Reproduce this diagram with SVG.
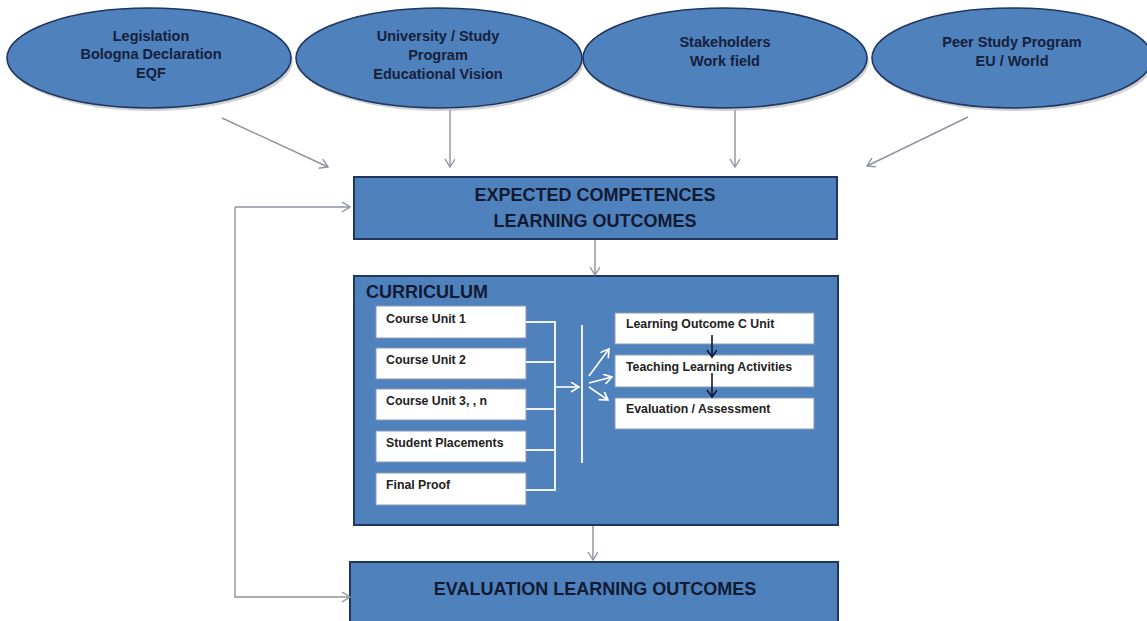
<svg xmlns="http://www.w3.org/2000/svg" width="1147" height="621" viewBox="0 0 1147 621">
  <style>
    .ell { fill: #4f81bd; stroke: #1f3660; stroke-width: 1.6; }
    .shadow { fill: #9a9a9a; opacity: 0.45; }
    .etxt { font-family: "Liberation Sans", Arial, sans-serif; font-weight: bold; font-size: 14.5px; fill: #15203a; text-anchor: middle; }
    .box { fill: #4f81bd; stroke: #1f3660; stroke-width: 2; }
    .btxt { font-family: "Liberation Sans", Arial, sans-serif; font-weight: bold; font-size: 18px; fill: #101a33; text-anchor: middle; }
    .ctitle { font-family: "Liberation Sans", Arial, sans-serif; font-weight: bold; font-size: 18px; fill: #101a33; }
    .wbox { fill: #ffffff; stroke: #8c9bb5; stroke-width: 1; }
    .wtxt { font-family: "Liberation Sans", Arial, sans-serif; font-weight: bold; font-size: 12.3px; fill: #222222; }
    .gray { fill: none; stroke: #8e939c; stroke-width: 1.4; marker-end: url(#ag); }
    .white { fill: none; stroke: #ffffff; stroke-width: 1.8; }
    .whitea { fill: none; stroke: #ffffff; stroke-width: 1.6; marker-end: url(#aw); }
    .dark { fill: none; stroke: #0d1a36; stroke-width: 1.6; marker-end: url(#ad); }
  </style>
  <defs>
    <marker id="ag" markerWidth="12" markerHeight="12" refX="9" refY="5" orient="auto" markerUnits="userSpaceOnUse">
      <path d="M1,0 L9,5 L1,10" fill="none" stroke="#8e939c" stroke-width="1.4"/>
    </marker>
    <marker id="aw" markerWidth="12" markerHeight="12" refX="9" refY="5" orient="auto" markerUnits="userSpaceOnUse">
      <path d="M1,0 L9,5 L1,10" fill="none" stroke="#ffffff" stroke-width="1.6"/>
    </marker>
    <marker id="ad" markerWidth="12" markerHeight="12" refX="8" refY="5" orient="auto" markerUnits="userSpaceOnUse">
      <path d="M1,0 L8,5 L1,10" fill="none" stroke="#0d1a36" stroke-width="1.6"/>
    </marker>
  </defs>
  <rect x="0" y="0" width="1147" height="621" fill="#ffffff"/>

  <g id="node-legislation">
    <ellipse class="shadow" cx="151" cy="61" rx="142" ry="50"/>
    <ellipse class="ell" cx="149" cy="58" rx="142" ry="50"/>
    <text class="etxt" x="151" y="41">Legislation</text>
    <text class="etxt" x="151" y="59">Bologna Declaration</text>
    <text class="etxt" x="151" y="78">EQF</text>
  </g>
  <g id="node-university">
    <ellipse class="shadow" cx="441" cy="61" rx="143" ry="50"/>
    <ellipse class="ell" cx="439" cy="58" rx="143" ry="50"/>
    <text class="etxt" x="438" y="41">University / Study</text>
    <text class="etxt" x="438" y="60">Program</text>
    <text class="etxt" x="438" y="79">Educational Vision</text>
  </g>
  <g id="node-stakeholders">
    <ellipse class="shadow" cx="727" cy="61" rx="142" ry="50"/>
    <ellipse class="ell" cx="725" cy="58" rx="142" ry="50"/>
    <text class="etxt" x="725" y="47">Stakeholders</text>
    <text class="etxt" x="725" y="66">Work field</text>
  </g>
  <g id="node-peer">
    <ellipse class="shadow" cx="1014" cy="61" rx="140" ry="50"/>
    <ellipse class="ell" cx="1012" cy="58" rx="140" ry="50"/>
    <text class="etxt" x="1012" y="47">Peer Study Program</text>
    <text class="etxt" x="1012" y="66">EU / World</text>
  </g>

  <g id="node-expected">
    <rect class="box" x="354" y="177" width="483" height="62"/>
    <text class="btxt" x="595" y="201">EXPECTED COMPETENCES</text>
    <text class="btxt" x="595" y="227">LEARNING OUTCOMES</text>
  </g>

  <g id="node-curriculum">
    <rect class="box" x="354" y="276" width="484" height="249"/>
    <text class="ctitle" x="366" y="298">CURRICULUM</text>
    <g id="node-cu1"><rect class="wbox" x="376" y="306" width="150" height="32"/><text class="wtxt" x="386" y="323">Course Unit 1</text></g>
    <g id="node-cu2"><rect class="wbox" x="376" y="348" width="150" height="31"/><text class="wtxt" x="386" y="364">Course Unit 2</text></g>
    <g id="node-cu3"><rect class="wbox" x="376" y="389" width="150" height="31"/><text class="wtxt" x="386" y="405">Course Unit 3, , n</text></g>
    <g id="node-placements"><rect class="wbox" x="376" y="431" width="150" height="31"/><text class="wtxt" x="386" y="447">Student Placements</text></g>
    <g id="node-final"><rect class="wbox" x="376" y="473" width="150" height="32"/><text class="wtxt" x="386" y="489">Final Proof</text></g>
    <g id="node-lo"><rect class="wbox" x="615" y="313" width="199" height="31"/><text class="wtxt" x="626" y="328">Learning Outcome C Unit</text></g>
    <g id="node-tla"><rect class="wbox" x="615" y="355" width="199" height="32"/><text class="wtxt" x="626" y="371">Teaching Learning Activities</text></g>
    <g id="node-eval"><rect class="wbox" x="615" y="398" width="199" height="31"/><text class="wtxt" x="626" y="413">Evaluation / Assessment</text></g>
  </g>

  <g id="node-evaluation">
    <rect class="box" x="350" y="562" width="488" height="70"/>
    <text class="btxt" x="595" y="595">EVALUATION LEARNING OUTCOMES</text>
  </g>

  <g id="connectors">
    <line class="gray" x1="222" y1="118" x2="328" y2="167"/>
    <line class="gray" x1="450" y1="110" x2="450" y2="167"/>
    <line class="gray" x1="735" y1="110" x2="735" y2="167"/>
    <line class="gray" x1="968" y1="117" x2="867" y2="166"/>
    <line class="gray" x1="595" y1="240" x2="595" y2="275"/>
    <line class="gray" x1="593" y1="526" x2="593" y2="560"/>
    <polyline class="gray" points="235,207 235,207 350,207"/>
    <polyline class="gray" points="235,207 235,597 350,597"/>

    <line class="white" x1="526" y1="322" x2="555" y2="322"/>
    <line class="white" x1="526" y1="362" x2="555" y2="362"/>
    <line class="white" x1="526" y1="409" x2="555" y2="409"/>
    <line class="white" x1="526" y1="450" x2="555" y2="450"/>
    <line class="white" x1="526" y1="490" x2="555" y2="490"/>
    <line class="white" x1="555" y1="321" x2="555" y2="491"/>
    <line class="whitea" x1="555" y1="387" x2="579" y2="387"/>
    <line class="white" x1="582" y1="325" x2="582" y2="463"/>
    <line class="whitea" x1="589" y1="376" x2="609" y2="349"/>
    <line class="whitea" x1="589" y1="383" x2="612" y2="377"/>
    <line class="whitea" x1="589" y1="387" x2="608" y2="400"/>

    <line class="dark" x1="712" y1="335" x2="712" y2="357"/>
    <line class="dark" x1="712" y1="373" x2="712" y2="397"/>
  </g>
</svg>
